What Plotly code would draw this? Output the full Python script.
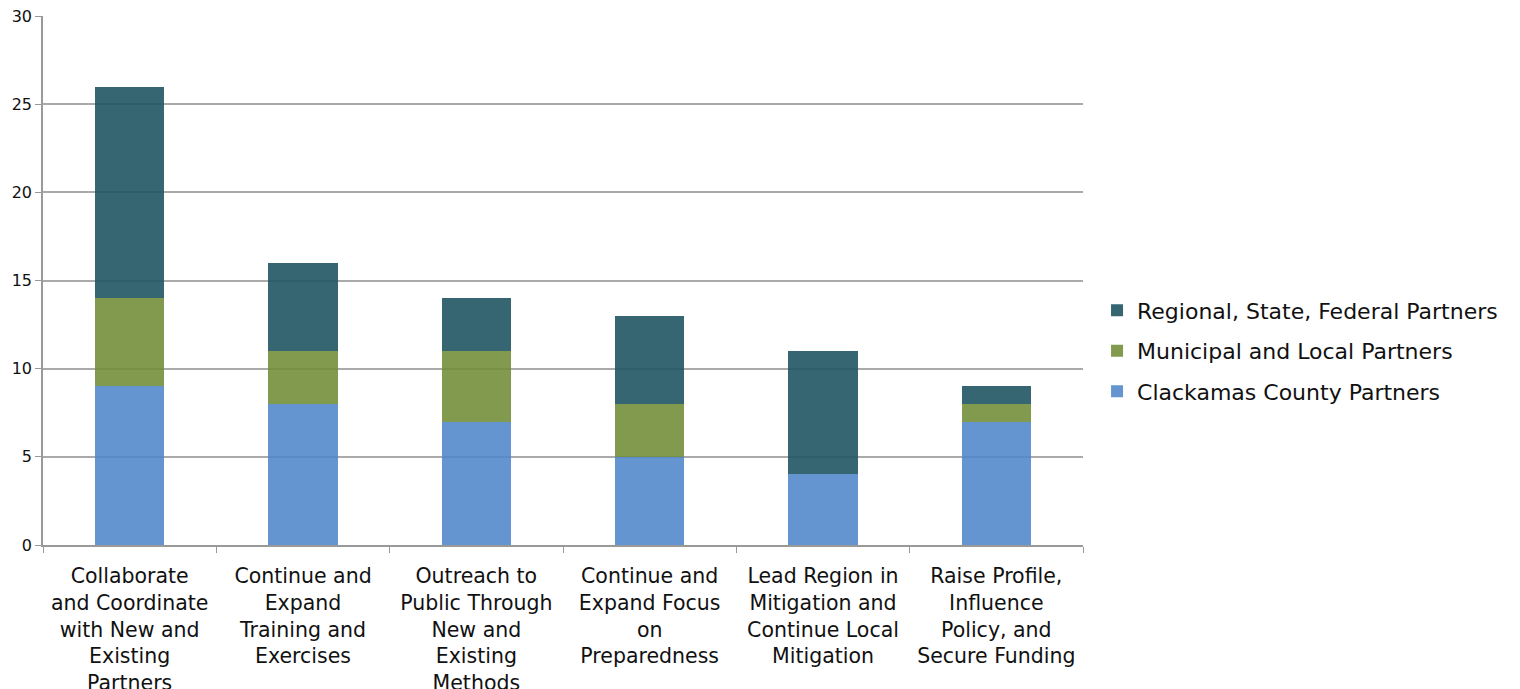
import plotly.graph_objects as go

categories = [
    "Collaborate<br>and Coordinate<br>with New and<br>Existing<br>Partners",
    "Continue and<br>Expand<br>Training and<br>Exercises",
    "Outreach to<br>Public Through<br>New and<br>Existing<br>Methods",
    "Continue and<br>Expand Focus<br>on<br>Preparedness",
    "Lead Region in<br>Mitigation and<br>Continue Local<br>Mitigation",
    "Raise Profile,<br>Influence<br>Policy, and<br>Secure Funding",
]
clackamas = [9, 8, 7, 5, 4, 7]
municipal = [5, 3, 4, 3, 0, 1]
regional = [12, 5, 3, 5, 7, 1]

series_names = ["Clackamas County Partners", "Municipal and Local Partners", "Regional, State, Federal Partners"]
series_colors = ["rgba(80,134,201,0.88)", "rgba(112,140,54,0.88)", "rgba(31,85,99,0.9)"]
legend_ranks = [3, 2, 1]

fig = go.Figure()
for name, vals, col, rank in zip(series_names, [clackamas, municipal, regional], series_colors, legend_ranks):
    fig.add_trace(go.Bar(x=categories, y=vals, name=name, legendgroup=name, legendrank=rank,
                         marker=dict(color=col, line=dict(width=0)), width=0.4))

font_family = "DejaVu Sans, Verdana, sans-serif"
fig.update_layout(
    barmode="stack",
    width=1520, height=689,
    margin=dict(l=43, r=437, t=16, b=144),
    plot_bgcolor="white", paper_bgcolor="white",
    font=dict(family=font_family, color="#111111"),
    legend=dict(
        x=1.0135, xanchor="left", y=0.367, yanchor="middle",
        traceorder="grouped",
        font=dict(size=22, family=font_family),
        itemwidth=30,
        tracegroupgap=9,
    ),
    xaxis=dict(
        automargin=False,
        showline=True, linecolor="#999999", linewidth=1.5,
        ticks="outside", tickson="boundaries", ticklen=6, tickcolor="#999999",
        tickfont=dict(size=20.5, family=font_family),
        tickangle=0,
        ticklabelstandoff=12,
    ),
    yaxis=dict(
        automargin=False,
        range=[0, 30], dtick=5,
        showline=True, linecolor="#999999", linewidth=1.5,
        showgrid=True, gridcolor="#aaaaaa", gridwidth=1.5,
        ticks="outside", ticklen=6, tickcolor="#999999",
        tickfont=dict(size=16, family=font_family),
        zeroline=False,
    ),
)
fig.write_html("out.html")
